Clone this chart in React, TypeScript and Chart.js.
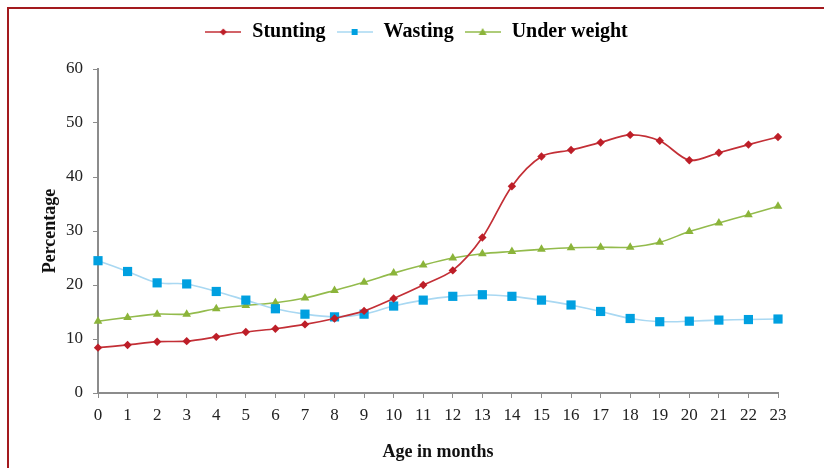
import { useEffect, useRef } from 'react';
import { Chart, registerables } from 'chart.js';

Chart.register(...registerables);

const months = ['0', '1', '2', '3', '4', '5', '6', '7', '8', '9', '10', '11', '12', '13', '14', '15', '16', '17', '18', '19', '20', '21', '22', '23'];
const stunting = [8.4, 8.9, 9.5, 9.6, 10.4, 11.3, 11.9, 12.7, 13.8, 15.2, 17.5, 20.0, 22.7, 28.8, 38.3, 43.8, 45.0, 46.4, 47.8, 46.7, 43.1, 44.5, 46.0, 47.4];
const wasting = [24.5, 22.5, 20.4, 20.2, 18.8, 17.2, 15.6, 14.6, 14.1, 14.6, 16.1, 17.2, 17.9, 18.2, 17.9, 17.2, 16.3, 15.1, 13.8, 13.2, 13.3, 13.5, 13.6, 13.7];
const underWeight = [13.3, 14.0, 14.6, 14.6, 15.6, 16.2, 16.7, 17.6, 19.0, 20.5, 22.2, 23.7, 25.0, 25.8, 26.2, 26.6, 26.9, 27.0, 27.0, 27.9, 29.9, 31.5, 33.0, 34.6];
const yTicks = [0, 10, 20, 30, 40, 50, 60];

const SERIF = '"Liberation Serif", "Times New Roman", serif';
const AXIS_GREY = '#8c8c8c';

// legend icon: short line with the marker in the middle, like Excel
function legendIcon(lineColor, markColor, shape) {
  const c = document.createElement('canvas');
  c.width = 36;
  c.height = 12;
  const ctx = c.getContext('2d');
  ctx.strokeStyle = lineColor;
  ctx.lineWidth = 1.6;
  ctx.beginPath();
  ctx.moveTo(0, 6);
  ctx.lineTo(36, 6);
  ctx.stroke();
  ctx.fillStyle = markColor;
  ctx.beginPath();
  if (shape === 'diamond') {
    ctx.moveTo(18, 2.5); ctx.lineTo(21.5, 6); ctx.lineTo(18, 9.5); ctx.lineTo(14.5, 6);
  } else if (shape === 'square') {
    ctx.rect(15, 3, 6, 6);
  } else {
    ctx.moveTo(18, 2); ctx.lineTo(22, 9); ctx.lineTo(14, 9);
  }
  ctx.closePath();
  ctx.fill();
  return c;
}

// extra space under the legend, and nudge it right a little
const legendGap = {
  id: 'legendGap',
  beforeInit(chart) {
    const legend = chart.legend;
    if (!legend || legend._gapPatched) return;
    const fit = legend.fit;
    legend.fit = function () {
      fit.call(this);
      this.height += 17;
    };
    legend._gapPatched = true;
  },
  afterLayout(chart) {
    if (!chart.legend) return;
    chart.legend.left += 9;
    chart.legend.right += 9;
  },
};

export default function App() {
  const canvasRef = useRef(null);
  const chartRef = useRef(null);

  useEffect(() => {
    if (chartRef.current) chartRef.current.destroy();

    const icons = [
      legendIcon('#c32f36', '#bd1e28', 'diamond'),
      legendIcon('#a9d8f2', '#00a0e0', 'square'),
      legendIcon('#93bb4c', '#8bb43a', 'triangle'),
    ];

    const axisBase = {
      grid: { display: true, drawOnChartArea: false, drawTicks: true, tickLength: 5, color: AXIS_GREY, lineWidth: 1 },
      border: { display: true, color: AXIS_GREY, width: 2 },
    };

    chartRef.current = new Chart(canvasRef.current, {
      type: 'line',
      data: {
        labels: months,
        datasets: [
          {
            label: 'Stunting',
            data: stunting,
            borderColor: '#c32f36',
            backgroundColor: '#bd1e28',
            borderWidth: 1.7,
            pointStyle: 'rectRot',
            pointRadius: 4.2,
            pointBorderWidth: 0,
            tension: 0.3,
            clip: false,
          },
          {
            label: 'Wasting',
            data: wasting,
            borderColor: '#a9d8f2',
            backgroundColor: '#00a0e0',
            borderWidth: 1.6,
            pointStyle: 'rect',
            pointRadius: 6.5,
            pointBorderWidth: 0,
            tension: 0.3,
            clip: false,
          },
          {
            label: 'Under weight',
            data: underWeight,
            borderColor: '#93bb4c',
            backgroundColor: '#8bb43a',
            borderWidth: 1.6,
            pointStyle: 'triangle',
            pointRadius: 5,
            pointBorderWidth: 0,
            tension: 0.3,
            clip: false,
          },
        ],
      },
      options: {
        responsive: true,
        maintainAspectRatio: false,
        animation: false,
        layout: { padding: { left: 36, right: 46, top: 12, bottom: 0 } },
        scales: {
          x: {
            ...axisBase,
            offset: false,
            ticks: { font: { family: SERIF, size: 17 }, color: '#222', padding: 7, maxRotation: 0, autoSkip: false },
            title: { display: true, text: 'Age in months', font: { family: SERIF, size: 18, weight: 'bold' }, color: '#111', padding: { top: 0, bottom: 5 } },
            afterFit: (s) => { s.height = 75; },
          },
          y: {
            ...axisBase,
            min: yTicks[0],
            max: yTicks[yTicks.length - 1],
            afterBuildTicks: (s) => { s.ticks = yTicks.map(v => ({ value: v })); },
            ticks: { font: { family: SERIF, size: 17 }, color: '#222', padding: 10 },
            title: { display: true, text: 'Percentage', font: { family: SERIF, size: 18, weight: 'bold' }, color: '#111', padding: { top: 4, bottom: 0 } },
            afterFit: (s) => { s.width = 62; },
          },
        },
        plugins: {
          legend: {
            position: 'top',
            labels: {
              usePointStyle: true,
              pointStyleWidth: 38,
              padding: 10,
              color: '#111',
              font: { family: SERIF, size: 20, weight: 'bold' },
              generateLabels: (chart) => chart.data.datasets.map((ds, i) => ({
                text: ds.label,
                pointStyle: icons[i],
                fillStyle: ds.backgroundColor,
                strokeStyle: ds.borderColor,
                lineWidth: 0,
                hidden: false,
                datasetIndex: i,
              })),
            },
          },
          tooltip: { enabled: false },
        },
      },
      plugins: [legendGap],
    });

    return () => { if (chartRef.current) chartRef.current.destroy(); };
  }, []);

  return (
    <div style={{ position: 'absolute', left: 0, top: 0, width: 824, height: 468, background: '#fff', overflow: 'hidden' }}>
      <div style={{ position: 'absolute', left: 7, top: 7, width: 900, height: 600, borderLeft: '2px solid #a31a1e', borderTop: '2px solid #a31a1e' }} />
      <canvas ref={canvasRef} />
    </div>
  );
}
